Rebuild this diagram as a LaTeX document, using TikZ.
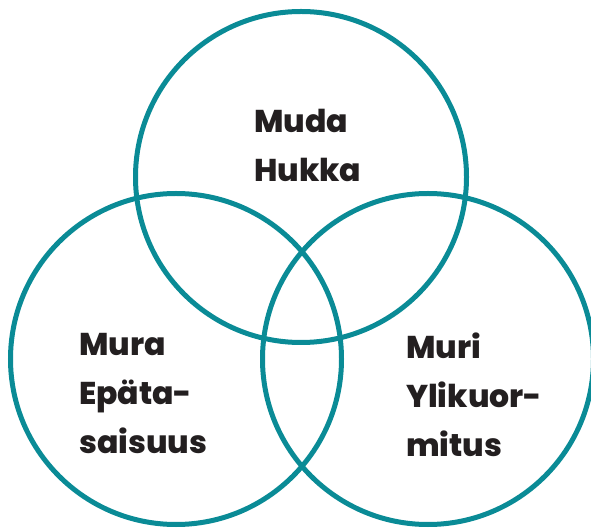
\documentclass[tikz,border=0pt]{standalone}
\usepackage{fontspec}
\setmainfont{Poppins}[BoldFont={Poppins ExtraBold}]
\usetikzlibrary{positioning}
\definecolor{mteal}{HTML}{0A8B96}
\definecolor{mink}{HTML}{231F20}
\tikzset{
  ring/.style={draw=mteal, line width=5pt},
  lbl/.style={text=mink, font=\fontsize{31.5}{49}\selectfont\bfseries,
              align=left, inner sep=0pt, anchor=north west},
}
\begin{document}
\begin{tikzpicture}[x=1pt, y=1pt]
  \useasboundingbox (0,0) rectangle (591,530);

  % circle centres
  \coordinate (cmuda) at (301,353);
  \coordinate (cmura) at (176,171);
  \coordinate (cmuri) at (428,171);

  \draw[ring] (cmuda) circle (165.5);
  \draw[ring] (cmura) circle (165.5);
  \draw[ring] (cmuri) circle (165.5);

  \node[lbl] (muda) at (254,421) {Muda\\Hukka};
  \node[lbl] (mura) at (79,197) {Mura\\Epäta-\\saisuus};
  \node[lbl] (muri) at (406,197) {Muri\\Ylikuor-\\mitus};
\end{tikzpicture}
\end{document}
